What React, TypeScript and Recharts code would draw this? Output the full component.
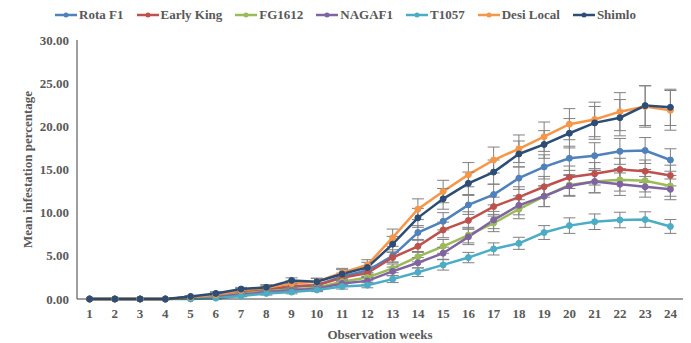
import React from 'react';
import { LineChart, Line, XAxis, YAxis, ErrorBar } from 'recharts';

const weeks = ['1', '2', '3', '4', '5', '6', '7', '8', '9', '10', '11', '12', '13', '14', '15', '16', '17', '18', '19', '20', '21', '22', '23', '24'];

const rotaF1 = [0, 0, 0, 0, 0.2, 0.5, 0.9, 1.1, 1.4, 1.6, 2.6, 3.3, 5.0, 7.7, 9.0, 10.9, 12.1, 14.0, 15.3, 16.3, 16.6, 17.1, 17.2, 16.1];
const earlyKing = [0, 0, 0, 0, 0.2, 0.4, 0.8, 1.1, 1.5, 1.6, 2.45, 3.0, 4.8, 6.1, 8.0, 9.1, 10.7, 11.8, 13.0, 14.1, 14.5, 15.0, 14.8, 14.3];
const fg1612 = [0, 0, 0, 0, 0.1, 0.3, 0.6, 0.9, 1.1, 1.3, 2.0, 2.5, 3.55, 4.9, 6.1, 7.4, 8.8, 10.4, 11.9, 13.2, 13.6, 13.8, 13.7, 13.1];
const nagaf1 = [0, 0, 0, 0, 0.1, 0.3, 0.5, 0.8, 1.0, 1.2, 1.8, 2.1, 3.2, 4.2, 5.3, 7.2, 9.15, 10.85, 11.9, 13.1, 13.6, 13.3, 13.0, 12.7];
const t1057 = [0, 0, 0, 0, 0, 0.1, 0.35, 0.65, 0.8, 1.05, 1.45, 1.6, 2.3, 3.1, 3.95, 4.8, 5.8, 6.45, 7.7, 8.5, 8.95, 9.15, 9.2, 8.4];
const desiLocal = [0, 0, 0, 0, 0.2, 0.5, 1.0, 1.3, 1.8, 2.0, 3.05, 3.95, 7.1, 10.4, 12.45, 14.4, 16.1, 17.4, 18.8, 20.25, 20.8, 21.7, 22.3, 21.85];
const shimlo = [0, 0, 0, 0, 0.3, 0.65, 1.15, 1.35, 2.15, 2.0, 2.9, 3.65, 6.35, 9.4, 11.6, 13.4, 14.7, 16.8, 17.9, 19.2, 20.4, 21.0, 22.4, 22.2];

const rotaF1Err = [0, 0, 0, 0, 0.1, 0.2, 0.2, 0.3, 0.3, 0.3, 0.4, 0.5, 0.7, 0.8, 1.0, 1.1, 1.2, 1.3, 1.4, 1.4, 1.5, 1.5, 1.5, 1.3];
const earlyKingErr = [0, 0, 0, 0, 0.1, 0.2, 0.2, 0.2, 0.3, 0.3, 0.4, 0.4, 0.6, 0.7, 0.9, 1.0, 1.1, 1.2, 1.2, 1.3, 1.3, 1.3, 1.3, 1.2];
const fg1612Err = [0, 0, 0, 0, 0.1, 0.1, 0.2, 0.2, 0.2, 0.3, 0.3, 0.4, 0.5, 0.6, 0.8, 0.9, 1.0, 1.1, 1.2, 1.2, 1.3, 1.3, 1.3, 1.2];
const nagaf1Err = [0, 0, 0, 0, 0.1, 0.1, 0.2, 0.2, 0.2, 0.3, 0.3, 0.4, 0.5, 0.6, 0.7, 0.9, 1.0, 1.1, 1.2, 1.2, 1.3, 1.3, 1.2, 1.2];
const t1057Err = [0, 0, 0, 0, 0, 0.1, 0.1, 0.2, 0.2, 0.2, 0.3, 0.3, 0.4, 0.5, 0.6, 0.6, 0.7, 0.7, 0.8, 0.9, 0.9, 0.9, 0.9, 0.8];
const desiLocalErr = [0, 0, 0, 0, 0.1, 0.2, 0.2, 0.3, 0.3, 0.4, 0.5, 0.6, 1.0, 1.2, 1.3, 1.4, 1.5, 1.6, 1.7, 1.8, 2.0, 2.2, 2.4, 2.3];
const shimloErr = [0, 0, 0, 0, 0.1, 0.2, 0.2, 0.3, 0.3, 0.4, 0.5, 0.6, 0.9, 1.1, 1.2, 1.3, 1.4, 1.5, 1.6, 1.7, 1.9, 2.1, 2.3, 2.1];

const yTicks = [0, 5, 10, 15, 20, 25, 30];

const series = [
  { key: 'rota', name: 'Rota F1', color: '#4f81bd', values: rotaF1, errors: rotaF1Err },
  { key: 'early', name: 'Early King', color: '#c0504d', values: earlyKing, errors: earlyKingErr },
  { key: 'fg', name: 'FG1612', color: '#9bbb59', values: fg1612, errors: fg1612Err },
  { key: 'naga', name: 'NAGAF1', color: '#8064a2', values: nagaf1, errors: nagaf1Err },
  { key: 't1057', name: 'T1057', color: '#4bacc6', values: t1057, errors: t1057Err },
  { key: 'desi', name: 'Desi Local', color: '#f79646', values: desiLocal, errors: desiLocalErr },
  { key: 'shimlo', name: 'Shimlo', color: '#2c4d75', values: shimlo, errors: shimloErr },
];

const data = weeks.map((w, i) => {
  const row: Record<string, any> = { week: w };
  series.forEach(s => {
    row[s.key] = s.values[i];
    row[s.key + 'Err'] = s.errors[i];
  });
  return row;
});

const FONT = '"Liberation Serif", "Times New Roman", serif';
const TEXT = '#595959';

// legend sits above the plot, outside the chart's own layout
const LegendRow = () => (
  <div style={{ position: 'absolute', top: 7, left: 0, width: 691, display: 'flex', justifyContent: 'center', fontFamily: FONT, fontWeight: 'bold', fontSize: 13, lineHeight: '16px', color: TEXT }}>
    {series.map((s, i) => (
      <div key={s.key} style={{ display: 'flex', alignItems: 'center', marginRight: i < series.length - 1 ? 13 : 0 }}>
        <svg width={22} height={10} style={{ marginRight: 2 }}>
          <line x1={0} y1={5} x2={22} y2={5} stroke={s.color} strokeWidth={2.5} />
          <circle cx={11} cy={5} r={2.5} fill={s.color} />
        </svg>
        <span>{s.name}</span>
      </div>
    ))}
  </div>
);

export default function App() {
  return (
    <div style={{ position: 'absolute', left: 0, top: 0, width: 691, height: 343, background: '#fff' }}>
      <LegendRow />
      <LineChart width={691} height={343} data={data} margin={{ top: 40, right: 8, bottom: 0, left: 0 }}>
        <XAxis
          dataKey="week"
          height={44}
          padding={{ left: 12.6, right: 12.6 }}
          axisLine={{ stroke: '#404040', strokeWidth: 1 }}
          tickLine={false}
          tickMargin={4}
          tick={{ fill: TEXT, fontFamily: FONT, fontWeight: 'bold', fontSize: 13 }}
          interval={0}
          label={{ value: 'Observation weeks', position: 'insideBottom', offset: 4, fill: TEXT, fontFamily: FONT, fontWeight: 'bold', fontSize: 13 }}
        />
        <YAxis
          width={77}
          domain={[0, 30]}
          ticks={yTicks}
          axisLine={{ stroke: '#404040', strokeWidth: 1 }}
          tickLine={false}
          tickFormatter={(v: number) => v.toFixed(2)}
          tick={{ fill: TEXT, fontFamily: FONT, fontWeight: 'bold', fontSize: 13 }}
          label={{ value: 'Mean infestation percentage', angle: -90, position: 'insideLeft', offset: 27, style: { textAnchor: 'middle' }, fill: TEXT, fontFamily: FONT, fontWeight: 'bold', fontSize: 13 }}
        />
        {series.map(s => (
          <Line
            key={s.key}
            dataKey={s.key}
            name={s.name}
            stroke={s.color}
            strokeWidth={2.5}
            dot={{ r: 3, fill: s.color, stroke: s.color, strokeWidth: 1 }}
            activeDot={false}
            isAnimationActive={false}
          >
            <ErrorBar dataKey={s.key + 'Err'} direction="y" width={6} stroke="#808080" strokeWidth={1} isAnimationActive={false} />
          </Line>
        ))}
      </LineChart>
    </div>
  );
}
